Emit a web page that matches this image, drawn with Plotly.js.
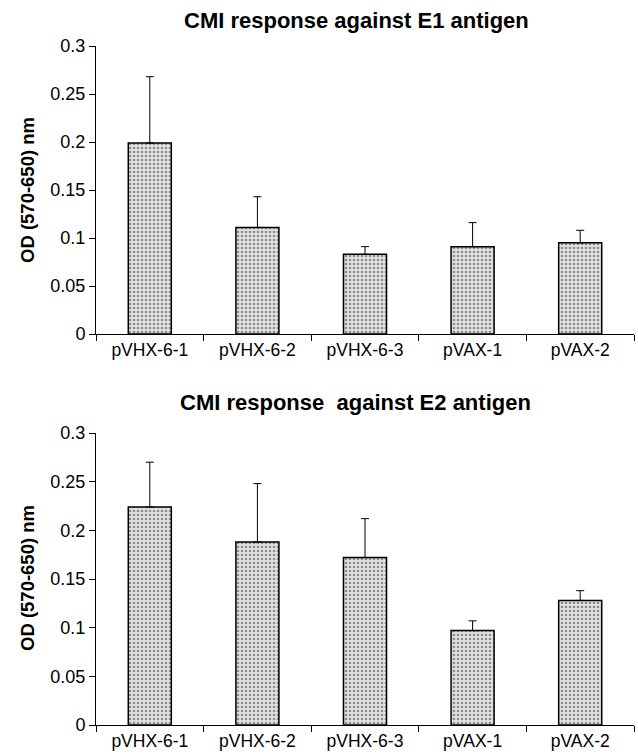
<!DOCTYPE html>
<html>
<head>
<meta charset="utf-8">
<script src="https://cdn.plot.ly/plotly-3.0.1.min.js"></script>
<style>
  html, body { margin: 0; padding: 0; background: #ffffff; }
  #chart { width: 638px; height: 754px; }
</style>
</head>
<body>
<div id="chart"></div>
<script>
// ---- data ----
const categories = ["pVHX-6-1", "pVHX-6-2", "pVHX-6-3", "pVAX-1", "pVAX-2"];
const e1Values = [0.199, 0.111, 0.083, 0.091, 0.095];
const e1Errors = [0.069, 0.032, 0.008, 0.025, 0.013];
const e2Values = [0.224, 0.188, 0.172, 0.097, 0.128];
const e2Errors = [0.046, 0.060, 0.040, 0.010, 0.010];
const titleE1 = "CMI response against E1 antigen";
const titleE2 = "CMI response\u00a0 against E2 antigen";
const yTitle = "OD (570-650) nm";

const FONT = "Liberation Sans, Arial, Helvetica, sans-serif";

function barTrace(vals, errs, xa, ya) {
  return {
    type: "bar",
    x: categories,
    y: vals,
    xaxis: xa,
    yaxis: ya,
    marker: {
      color: "#d4d4d4",
      line: { color: "#000000", width: 1.5 },
      pattern: { shape: ".", fgcolor: "#8c8c8c", bgcolor: "#e2e2e2", size: 4, solidity: 0.35, fillmode: "replace" }
    },
    error_y: {
      type: "data",
      symmetric: false,
      array: errs,
      arrayminus: errs.map(() => 0),
      color: "#000000",
      thickness: 1,
      width: 4
    },
    showlegend: false,
    hoverinfo: "skip"
  };
}

const W = 638, H = 754;
const L = 96, R = 4;
function py(pix) { return 1 - pix / H; }
function px(pix) { return (pix - L) / (W - L - R); }

const xCommon = {
  type: "category",
  showline: true, linecolor: "#000", linewidth: 1,
  ticks: "outside", ticklen: 6, tickcolor: "#000", tickwidth: 1,
  tickson: "boundaries",
  showgrid: false, zeroline: false,
  tickfont: { family: FONT, size: 17.5, color: "#000" },
  automargin: false,
  fixedrange: true
};
const yCommon = {
  range: [0, 0.3], dtick: 0.05, tick0: 0,
  showline: true, linecolor: "#000", linewidth: 1,
  ticks: "outside", ticklen: 6, tickcolor: "#000", tickwidth: 1,
  showgrid: false, zeroline: false,
  tickfont: { family: FONT, size: 18, color: "#000" },
  automargin: false,
  fixedrange: true
};

const layout = {
  width: W, height: H,
  margin: { l: L, r: R, t: 0, b: 0 },
  paper_bgcolor: "#fff", plot_bgcolor: "#fff",
  bargap: 0.6,
  font: { family: FONT, color: "#000" },
  xaxis: Object.assign({}, xCommon, { domain: [0, 1], anchor: "y" }),
  yaxis: Object.assign({}, yCommon, { domain: [py(334), py(46)], anchor: "x" }),
  xaxis2: Object.assign({}, xCommon, { domain: [0, 1], anchor: "y2" }),
  yaxis2: Object.assign({}, yCommon, { domain: [py(725), py(433)], anchor: "x2" }),
  annotations: [
    { text: "<b>" + titleE1 + "</b>", xref: "paper", yref: "paper", x: px(356), y: py(20),
      xanchor: "center", yanchor: "middle", showarrow: false, font: { family: FONT, size: 22, color: "#000" } },
    { text: "<b>" + titleE2 + "</b>", xref: "paper", yref: "paper", x: px(355), y: py(402),
      xanchor: "center", yanchor: "middle", showarrow: false, font: { family: FONT, size: 22, color: "#000" } },
    { text: "<b>" + yTitle + "</b>", xref: "paper", yref: "paper", x: px(27), y: py(190),
      xanchor: "center", yanchor: "middle", textangle: -90, showarrow: false, font: { family: FONT, size: 18.5, color: "#000" } },
    { text: "<b>" + yTitle + "</b>", xref: "paper", yref: "paper", x: px(27), y: py(578),
      xanchor: "center", yanchor: "middle", textangle: -90, showarrow: false, font: { family: FONT, size: 18.5, color: "#000" } }
  ]
};

Plotly.newPlot("chart", [
  barTrace(e1Values, e1Errors, "x", "y"),
  barTrace(e2Values, e2Errors, "x2", "y2")
], layout, { staticPlot: true, displayModeBar: false });
</script>
</body>
</html>
